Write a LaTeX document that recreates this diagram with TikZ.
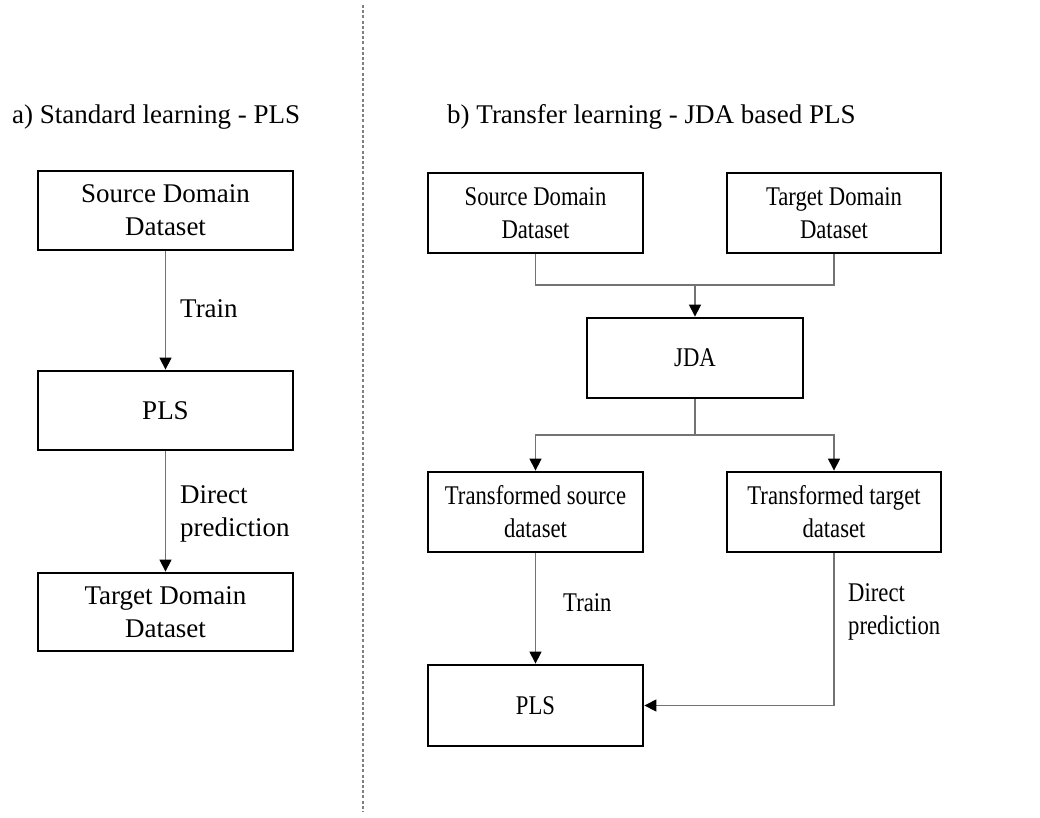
\documentclass[tikz,border=0pt]{standalone}
\usepackage{fontspec}
\setmainfont{Liberation Serif}
\newfontfamily\narrowserif[FakeStretch=0.84]{Liberation Serif}
\usetikzlibrary{arrows.meta}

\begin{document}
\begin{tikzpicture}[x=1pt,y=-1pt,
  every node/.style={font=\fontsize{27}{33}\selectfont},
  narrow/.style={font=\narrowserif\fontsize{27}{33}\selectfont},
  blockbox/.style={draw=black, line width=2.8pt, fill=white, align=center, inner sep=0pt},
  link/.style={draw=black!55, line width=1.2pt},
  arr/.style={link, -{Triangle[length=12pt,width=12pt,color=black]}},
  lbl/.style={anchor=west, align=left, inner sep=0pt}]

  \useasboundingbox (0,0) rectangle (1040,817);

  % divider between the two panels
  \draw[black!50, line width=1.2pt, dash pattern=on 3pt off 2.2pt] (363,5) -- (363,812);

  % panel titles
  \node[anchor=base west, inner sep=0pt] (ta) at (12,123) {a) Standard learning - PLS};
  \node[anchor=base west, inner sep=0pt] (tb) at (447,123) {b) Transfer learning - JDA based PLS};

  % a) standard learning
  \node[blockbox, minimum width=255pt, minimum height=79pt] (asrc) at (165.5,210.5) {Source Domain\\Dataset};
  \node[blockbox, minimum width=255pt, minimum height=79pt] (apls) at (165.5,410.5) {PLS};
  \node[blockbox, minimum width=255pt, minimum height=78pt] (atgt) at (165.5,612) {Target Domain\\Dataset};

  \draw[arr] (asrc.south) -- (apls.north);
  \draw[arr] (apls.south) -- (atgt.north);
  \node[lbl] (atrain) at (180,309) {Train};
  \node[lbl] (adirect) at (180,514) {Direct\\prediction};

  % b) transfer learning
  \begin{scope}[every node/.append style={narrow}]
  \node[blockbox, minimum width=215pt, minimum height=80pt] (bsrc) at (535.5,213) {Source Domain\\Dataset};
  \node[blockbox, minimum width=214pt, minimum height=80pt] (btgt) at (834,213) {Target Domain\\Dataset};
  \node[blockbox, minimum width=216pt, minimum height=80pt] (jda) at (695,358) {JDA};
  \node[blockbox, minimum width=215pt, minimum height=80pt] (tsrc) at (535.5,512) {Transformed source\\dataset};
  \node[blockbox, minimum width=214pt, minimum height=80pt] (ttgt) at (834,512) {Transformed target\\dataset};
  \node[blockbox, minimum width=215pt, minimum height=81pt] (bpls) at (535.5,705.5) {PLS};

  \coordinate (merge) at (695,285);
  \coordinate (split) at (695,435);

  \draw[link] (bsrc.south) |- (merge) -| (btgt.south);
  \draw[arr] (merge) -- (jda.north);
  \draw[link] (jda.south) -- (split);
  \draw[arr] (split) -| (tsrc.north);
  \draw[arr] (split) -| (ttgt.north);
  \draw[arr] (tsrc.south) -- (bpls.north);
  \draw[arr] (ttgt.south) |- (bpls.east);

  \node[lbl] (btrain) at (563,603) {Train};
  \node[lbl] (bdirect) at (848,612) {Direct\\prediction};
  \end{scope}
\end{tikzpicture}
\end{document}
